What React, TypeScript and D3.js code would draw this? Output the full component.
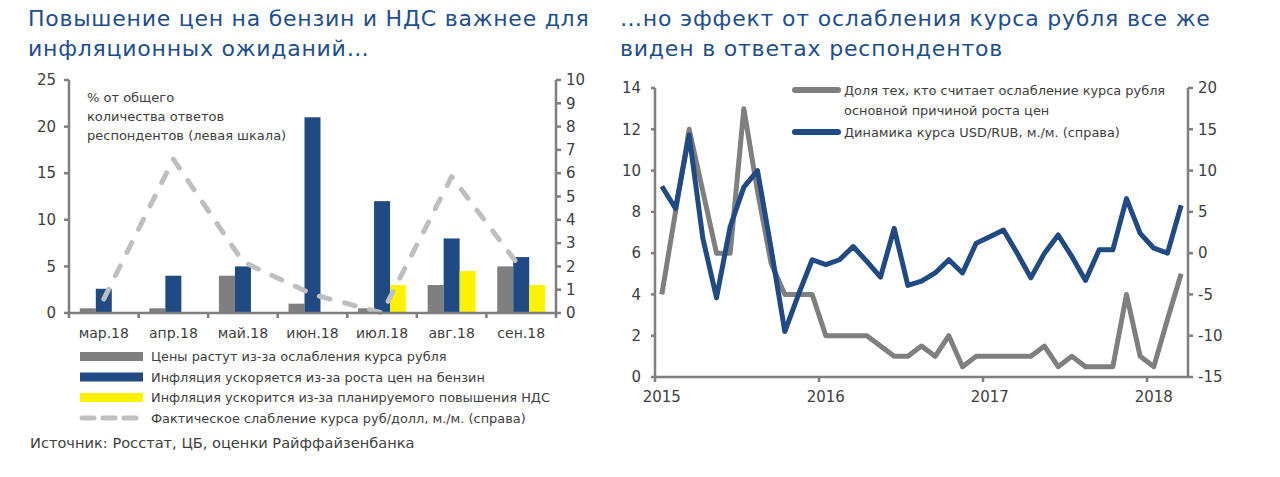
import { line, scaleBand, scaleLinear } from "d3";

// left chart: survey answers by month (% of respondents) + actual RUB/USD weakening
const months = ["мар.18", "апр.18", "май.18", "июн.18", "июл.18", "авг.18", "сен.18"];
const rubleWeakness = [0.5, 0.5, 4, 1, 0.5, 3, 5];
const petrolPrices = [2.6, 4, 5, 21, 12, 8, 6];
const vatIncrease = [0, 0, 0, 0, 3, 4.5, 3];
const rubUsdChange = [0.6, 6.6, 2.2, 0.8, 0, 5.85, 1.9];
const leftTicks = [0, 5, 10, 15, 20, 25];
const rightTicks = [0, 1, 2, 3, 4, 5, 6, 7, 8, 9, 10];

// right chart: monthly, Jan 2015 .. Mar 2018
const years = ["2015", "2016", "2017", "2018"];
const shareRubleCause = [
  4, 8, 12, 9, 6, 6, 13, 9, 5.5, 4, 4, 4, 2, 2, 2, 2, 1.5, 1, 1, 1.5, 1, 2, 0.5, 1, 1, 1, 1, 1,
  1.5, 0.5, 1, 0.5, 0.5, 0.5, 4, 1, 0.5, 2.8, 5,
];
const usdRubChange = [
  8.1, 5.4, 14.3, 1.8, -5.4, 3.2, 8, 10, 0.5, -9.5, -5, -0.8, -1.4, -0.8, 0.8, -1, -2.9, 3, -3.9,
  -3.4, -2.4, -0.8, -2.4, 1.2, 2, 2.8, 0, -3, 0, 2.2, -0.4, -3.3, 0.4, 0.4, 6.6, 2.4, 0.6, 0, 5.8,
];
const shareTicks = [0, 2, 4, 6, 8, 10, 12, 14];
const usdTicks = [-15, -10, -5, 0, 5, 10, 15, 20];

const font = "'DejaVu Sans', sans-serif";
const axisColor = "#7f7f7f";
const textColor = "#404040";
const titleColor = "#1f4e8c";
const gray = "#7f7f7f";
const blue = "#1f4a84";
const yellow = "#fff200";
const lightGray = "#bfbfbf";

function LeftChart() {
  const x0 = scaleBand<string>().domain(months).range([69, 556]);
  const x1 = scaleBand<string>()
    .domain(["gray", "blue", "yellow"])
    .range([0, x0.bandwidth()])
    .paddingOuter(0.675);
  const yL = scaleLinear().domain([0, 25]).range([313, 80]);
  const yR = scaleLinear().domain([0, 10]).range([313, 80]);
  const cx = (m: string) => (x0(m) ?? 0) + x0.bandwidth() / 2;

  const dashed = line<number>()
    .x((_, i) => cx(months[i]))
    .y((d) => yR(d))(rubUsdChange);

  const series = [
    { key: "gray", values: rubleWeakness, color: gray },
    { key: "blue", values: petrolPrices, color: blue },
    { key: "yellow", values: vatIncrease, color: yellow },
  ];

  const legend = [
    { label: "Цены растут из-за ослабления курса рубля", color: gray },
    { label: "Инфляция ускоряется из-за роста цен на бензин", color: blue },
    { label: "Инфляция ускорится из-за планируемого повышения НДС", color: yellow },
  ];

  return (
    <g fontFamily={font}>
      <text x={28} y={26} fontSize={22} fill={titleColor} letterSpacing={0.75}>
        Повышение цен на бензин и НДС важнее для
      </text>
      <text x={28} y={56} fontSize={22} fill={titleColor} letterSpacing={0.75}>
        инфляционных ожиданий…
      </text>

      {series.map((s) =>
        months.map((m, i) =>
          s.values[i] > 0 ? (
            <rect
              key={s.key + m}
              x={(x0(m) ?? 0) + (x1(s.key) ?? 0)}
              width={x1.bandwidth()}
              y={yL(s.values[i])}
              height={yL(0) - yL(s.values[i])}
              fill={s.color}
            />
          ) : null
        )
      )}

      {dashed ? (
        <path
          d={dashed}
          fill="none"
          stroke={lightGray}
          strokeWidth={5}
          strokeDasharray="11 15"
          strokeLinecap="round"
          strokeLinejoin="round"
        />
      ) : null}

      {/* axes */}
      <g stroke={axisColor} strokeWidth={2.5}>
        <line x1={69} x2={69} y1={80} y2={314} />
        <line x1={556} x2={556} y1={80} y2={314} />
        <line x1={68} x2={557} y1={313} y2={313} />
        {leftTicks.map((t) => (
          <line key={t} x1={64} x2={69} y1={yL(t)} y2={yL(t)} />
        ))}
        {rightTicks.map((t) => (
          <line key={t} x1={556} x2={561} y1={yR(t)} y2={yR(t)} />
        ))}
        {[...months.map((m) => x0(m) ?? 0), 556].map((x) => (
          <line key={x} x1={x} x2={x} y1={313} y2={318} />
        ))}
      </g>
      {leftTicks.map((t) => (
        <text key={t} x={56} y={yL(t)} dy="0.35em" textAnchor="end" fontSize={15} fill={textColor}>
          {t}
        </text>
      ))}
      {rightTicks.map((t) => (
        <text key={t} x={566} y={yR(t)} dy="0.35em" fontSize={15} fill={textColor}>
          {t}
        </text>
      ))}
      {months.map((m) => (
        <text key={m} x={cx(m)} y={338} textAnchor="middle" fontSize={14} fill={textColor}>
          {m}
        </text>
      ))}

      <g fontSize={13} fill={textColor}>
        <text x={87} y={97} dy="0.35em">% от общего</text>
        <text x={87} y={116} dy="0.35em">количества ответов</text>
        <text x={87} y={135} dy="0.35em">респондентов (левая шкала)</text>
      </g>

      {legend.map((l, i) => (
        <g key={l.label}>
          <rect x={80} y={352 + i * 20.5} width={63} height={9} fill={l.color} />
          <text x={151} y={356.5 + i * 20.5} dy="0.35em" fontSize={12.9} fill={textColor}>
            {l.label}
          </text>
        </g>
      ))}
      <line
        x1={82}
        x2={143}
        y1={418}
        y2={418}
        stroke={lightGray}
        strokeWidth={5}
        strokeDasharray="12 9"
        strokeLinecap="round"
      />
      <text x={151} y={418} dy="0.35em" fontSize={12.9} fill={textColor}>
        Фактическое слабление курса руб/долл, м./м. (справа)
      </text>
      <text x={30} y={443} dy="0.35em" fontSize={14.6} fill={textColor}>
        Источник: Росстат, ЦБ, оценки Райффайзенбанка
      </text>
    </g>
  );
}

function RightChart() {
  const x = scaleLinear().domain([0, shareRubleCause.length]).range([655, 1188]);
  const yS = scaleLinear().domain([0, 14]).range([377, 88]);
  const yU = scaleLinear().domain([-15, 20]).range([377, 88]);

  const shareLine = line<number>()
    .x((_, i) => x(i + 0.5))
    .y((d) => yS(d))(shareRubleCause);
  const usdLine = line<number>()
    .x((_, i) => x(i + 0.5))
    .y((d) => yU(d))(usdRubChange);

  return (
    <g fontFamily={font}>
      <text x={620} y={26} fontSize={22} fill={titleColor} letterSpacing={0.8}>
        …но эффект от ослабления курса рубля все же
      </text>
      <text x={620} y={56} fontSize={22} fill={titleColor} letterSpacing={0.8}>
        виден в ответах респондентов
      </text>

      <g stroke={axisColor} strokeWidth={2.5}>
        <line x1={655} x2={655} y1={88} y2={378} />
        <line x1={1188} x2={1188} y1={88} y2={378} />
        <line x1={654} x2={1189} y1={377} y2={377} />
        {shareTicks.map((t) => (
          <line key={t} x1={651} x2={655} y1={yS(t)} y2={yS(t)} />
        ))}
        {usdTicks.map((t) => (
          <line key={t} x1={1188} x2={1193} y1={yU(t)} y2={yU(t)} />
        ))}
        {years.map((_, i) => (
          <line key={i} x1={x(i * 12)} x2={x(i * 12)} y1={377} y2={382} />
        ))}
      </g>
      {shareTicks.map((t) => (
        <text key={t} x={641} y={yS(t)} dy="0.35em" textAnchor="end" fontSize={15} fill={textColor}>
          {t}
        </text>
      ))}
      {usdTicks.map((t) => (
        <text key={t} x={1198} y={yU(t)} dy="0.35em" fontSize={15} fill={textColor}>
          {t}
        </text>
      ))}
      {years.map((yr, i) => (
        <text key={yr} x={x(i * 12 + 0.5)} y={402} textAnchor="middle" fontSize={15} fill={textColor}>
          {yr}
        </text>
      ))}

      {shareLine ? (
        <path d={shareLine} fill="none" stroke={gray} strokeWidth={5} strokeLinejoin="round" />
      ) : null}
      {usdLine ? (
        <path d={usdLine} fill="none" stroke={blue} strokeWidth={5} strokeLinejoin="round" />
      ) : null}

      <line x1={795} x2={838} y1={90} y2={90} stroke={gray} strokeWidth={6} strokeLinecap="round" />
      <text x={844} y={90} dy="0.35em" fontSize={12.9} fill={textColor}>
        Доля тех, кто считает ослабление курса рубля
      </text>
      <text x={844} y={110} dy="0.35em" fontSize={12.9} fill={textColor}>
        основной причиной роста цен
      </text>
      <line x1={795} x2={838} y1={132} y2={132} stroke={blue} strokeWidth={6} strokeLinecap="round" />
      <text x={844} y={132} dy="0.35em" fontSize={12.9} fill={textColor}>
        Динамика курса USD/RUB, м./м. (справа)
      </text>
    </g>
  );
}

export default function App() {
  return (
    <div style={{ position: "absolute", left: 0, top: 0 }}>
      <svg width={1280} height={477} viewBox="0 0 1280 477" style={{ display: "block", background: "#fff" }}>
        <LeftChart />
        <RightChart />
      </svg>
    </div>
  );
}
